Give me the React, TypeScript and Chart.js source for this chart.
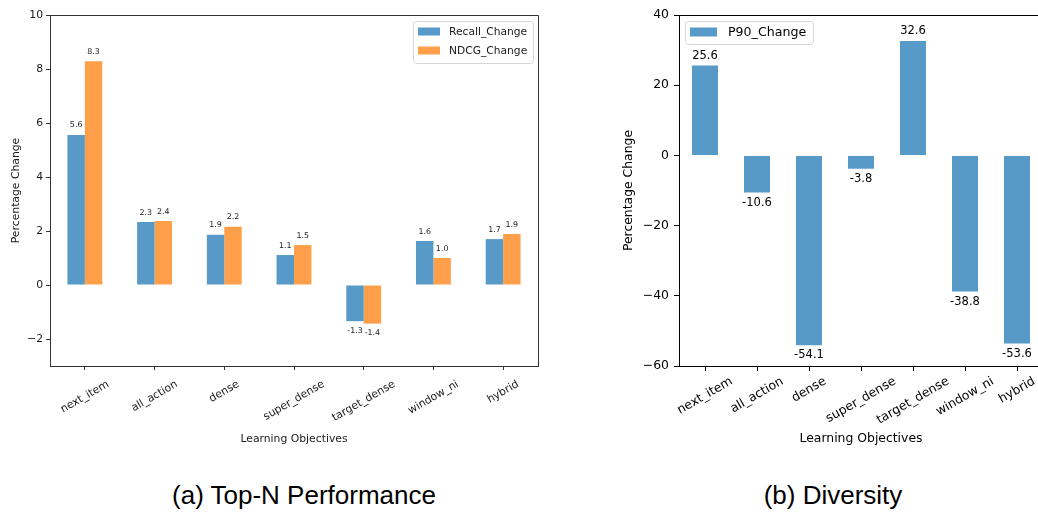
import React, { useEffect, useRef } from "react";
import { Chart, registerables } from "chart.js";
Chart.register(...registerables);

const categories = ["next_item", "all_action", "dense", "super_dense", "target_dense", "window_ni", "hybrid"];
const recallChange = [5.56, 2.33, 1.86, 1.11, -1.34, 1.63, 1.7];
const ndcgChange = [8.29, 2.37, 2.16, 1.48, -1.43, 1.0, 1.89];
const p90Change = [25.6, -10.6, -54.1, -3.8, 32.6, -38.8, -53.6];
const leftTicks = [-2, 0, 2, 4, 6, 8, 10];
const rightTicks = [-60, -40, -20, 0, 20, 40];
const leftSeriesNames = ["Recall_Change", "NDCG_Change"];
const rightSeriesNames = ["P90_Change"];
const captions = ["(a) Top-N Performance", "(b) Diversity"];

const BLUE = "rgb(87,153,199)";
const ORANGE = "rgb(255,159,74)";
const FONT = "'DejaVu Sans', 'Noto Sans', sans-serif";

const fmtTick = (v: number) => (v < 0 ? "\u2212" + Math.abs(v) : String(v));

function roundRect(ctx: CanvasRenderingContext2D, x: number, y: number, w: number, h: number, r: number) {
  ctx.beginPath();
  ctx.moveTo(x + r, y);
  ctx.lineTo(x + w - r, y);
  ctx.quadraticCurveTo(x + w, y, x + w, y + r);
  ctx.lineTo(x + w, y + h - r);
  ctx.quadraticCurveTo(x + w, y + h, x + w - r, y + h);
  ctx.lineTo(x + r, y + h);
  ctx.quadraticCurveTo(x, y + h, x, y + h - r);
  ctx.lineTo(x, y + r);
  ctx.quadraticCurveTo(x, y, x + r, y);
  ctx.closePath();
}

type Cfg = {
  spineColor: string;
  textColor: string;
  tickFont: number;
  labelFont: number;
  barLabelFont: number;
  barLabelOffset: number;
  xLabelC: number;
  legend: { x: number; y: number; w: number; h: number; patchX: number; patchW: number; patchH: number; textX: number; rows: number[]; font: number };
  names: string[];
  colors: string[];
};

function makePlugin(cfg: Cfg) {
  return {
    id: "decor",
    afterDraw(chart: any) {
      const { ctx, chartArea: a, scales } = chart;
      ctx.save();
      // top & right spines
      ctx.strokeStyle = cfg.spineColor;
      ctx.lineWidth = 1;
      ctx.beginPath();
      ctx.moveTo(Math.round(a.left), Math.round(a.top) + 0.5);
      ctx.lineTo(Math.round(a.right) + 0.5, Math.round(a.top) + 0.5);
      ctx.lineTo(Math.round(a.right) + 0.5, Math.round(a.bottom));
      ctx.stroke();

      // bar value labels
      ctx.fillStyle = cfg.textColor;
      ctx.font = `${cfg.barLabelFont}px ${FONT}`;
      ctx.textAlign = "center";
      ctx.textBaseline = "middle";
      chart.data.datasets.forEach((ds: any, di: number) => {
        const meta = chart.getDatasetMeta(di);
        meta.data.forEach((bar: any, i: number) => {
          const v = ds.data[i] as number;
          const y = v >= 0 ? bar.y - cfg.barLabelOffset : bar.y + cfg.barLabelOffset;
          ctx.fillText(v.toFixed(1), bar.x, y);
        });
      });

      // rotated x tick labels (centered like matplotlib)
      const x = scales.x;
      ctx.font = `${cfg.tickFont}px ${FONT}`;
      categories.forEach((lab, i) => {
        const px = x.getPixelForValue(i);
        const w = ctx.measureText(lab).width;
        const cy = a.bottom + cfg.xLabelC + (w * 0.5) / 2;
        ctx.save();
        ctx.translate(px, cy);
        ctx.rotate(-Math.PI / 6);
        ctx.fillText(lab, 0, 0);
        ctx.restore();
      });

      // legend
      const L = cfg.legend;
      roundRect(ctx, L.x + 0.5, L.y + 0.5, L.w, L.h, 3);
      ctx.fillStyle = "rgba(255,255,255,0.8)";
      ctx.fill();
      ctx.strokeStyle = "rgb(214,214,214)";
      ctx.stroke();
      ctx.font = `${L.font}px ${FONT}`;
      ctx.textAlign = "left";
      ctx.textBaseline = "middle";
      cfg.names.forEach((n, i) => {
        const cy = L.rows[i];
        ctx.fillStyle = cfg.colors[i];
        ctx.fillRect(L.patchX, cy - L.patchH / 2, L.patchW, L.patchH);
        ctx.fillStyle = cfg.textColor;
        ctx.fillText(n, L.textX, cy + 0.5);
      });
      ctx.restore();
    },
  };
}

function buildOptions(o: {
  min: number;
  max: number;
  ticks: number[];
  yWidth: number;
  xHeight: number;
  padding: any;
  tickFont: number;
  labelFont: number;
  spineColor: string;
  textColor: string;
  tickLen: number;
  tickPad: number;
  yTitlePad: number;
  xTitlePad: number;
}) {
  return {
    responsive: false,
    animation: false,
    devicePixelRatio: 1,
    layout: { padding: o.padding },
    plugins: { legend: { display: false }, tooltip: { enabled: false }, title: { display: false } },
    scales: {
      x: {
        type: "category",
        offset: true,
        grid: { offset: false, drawOnChartArea: false, drawTicks: true, tickLength: o.tickLen, color: o.spineColor, lineWidth: 1 },
        border: { display: true, color: o.spineColor, width: 1 },
        ticks: { display: false },
        title: {
          display: true,
          text: "Learning Objectives",
          color: o.textColor,
          font: { family: FONT, size: o.labelFont },
          padding: { top: 0, bottom: o.xTitlePad },
        },
        afterFit: (s: any) => {
          s.height = o.xHeight;
          s.paddingLeft = 0;
          s.paddingRight = 0;
        },
      },
      y: {
        min: o.min,
        max: o.max,
        afterBuildTicks: (s: any) => {
          s.ticks = o.ticks.map((v) => ({ value: v }));
        },
        grid: { drawOnChartArea: false, drawTicks: true, tickLength: o.tickLen, color: o.spineColor, lineWidth: 1 },
        border: { display: true, color: o.spineColor, width: 1 },
        ticks: {
          color: o.textColor,
          padding: o.tickPad,
          font: { family: FONT, size: o.tickFont },
          callback: (v: any) => fmtTick(Number(v)),
        },
        title: {
          display: true,
          text: "Percentage Change",
          color: o.textColor,
          font: { family: FONT, size: o.labelFont },
          padding: { top: o.yTitlePad, bottom: 0 },
        },
        afterFit: (s: any) => {
          s.width = o.yWidth;
          s.paddingTop = 0;
          s.paddingBottom = 0;
        },
      },
    },
  } as any;
}

function LeftChart() {
  const ref = useRef<HTMLCanvasElement>(null);
  useEffect(() => {
    const textColor = "#1a1a1a";
    const spineColor = "#333";
    const chart = new Chart(ref.current as HTMLCanvasElement, {
      type: "bar",
      data: {
        labels: categories,
        datasets: [
          { label: leftSeriesNames[0], data: recallChange, backgroundColor: BLUE, categoryPercentage: 0.5, barPercentage: 1 },
          { label: leftSeriesNames[1], data: ndcgChange, backgroundColor: ORANGE, categoryPercentage: 0.5, barPercentage: 1 },
        ],
      },
      options: buildOptions({
        min: -3,
        max: 10,
        ticks: leftTicks,
        yWidth: 50,
        xHeight: 94,
        padding: { top: 15, right: 22, left: 0, bottom: 0 },
        tickFont: 10.8,
        labelFont: 10.8,
        spineColor,
        textColor,
        tickLen: 4,
        tickPad: 3,
        yTitlePad: 9.5,
        xTitlePad: 14.5,
      }),
      plugins: [
        makePlugin({
          spineColor,
          textColor,
          tickFont: 10.8,
          labelFont: 10.8,
          barLabelFont: 7.9,
          barLabelOffset: 9.5,
          xLabelC: 17.5,
          legend: { x: 413, y: 21, w: 120, h: 42, patchX: 418, patchW: 22, patchH: 8, textX: 449, rows: [31.5, 50.5], font: 10.7 },
          names: leftSeriesNames,
          colors: [BLUE, ORANGE],
        }),
      ],
    } as any);
    return () => chart.destroy();
  }, []);
  return <canvas ref={ref} width={560} height={460} style={{ position: "absolute", left: 0, top: 0, width: 560, height: 460 }} />;
}

function RightChart() {
  const ref = useRef<HTMLCanvasElement>(null);
  useEffect(() => {
    const textColor = "#000";
    const spineColor = "#000";
    const chart = new Chart(ref.current as HTMLCanvasElement, {
      type: "bar",
      data: {
        labels: categories,
        datasets: [{ label: rightSeriesNames[0], data: p90Change, backgroundColor: BLUE, categoryPercentage: 0.5, barPercentage: 1 }],
      },
      options: buildOptions({
        min: -60,
        max: 40,
        ticks: rightTicks,
        yWidth: 119,
        xHeight: 94,
        padding: { top: 15, right: 37, left: 0, bottom: 0 },
        tickFont: 12.4,
        labelFont: 12.4,
        spineColor,
        textColor,
        tickLen: 5,
        tickPad: 5,
        yTitlePad: 61.6,
        xTitlePad: 13.6,
      }),
      plugins: [
        makePlugin({
          spineColor,
          textColor,
          tickFont: 12.4,
          labelFont: 12.4,
          barLabelFont: 11.5,
          barLabelOffset: 10,
          xLabelC: 14.5,
          legend: { x: 125, y: 21, w: 128, h: 23, patchX: 130, patchW: 27, patchH: 9, textX: 168, rows: [32], font: 12.6 },
          names: rightSeriesNames,
          colors: [BLUE],
        }),
      ],
    } as any);
    return () => chart.destroy();
  }, []);
  return <canvas ref={ref} width={520} height={460} style={{ position: "absolute", left: 560, top: 0, width: 520, height: 460 }} />;
}

export default function App() {
  const capStyle = (cx: number): React.CSSProperties => ({
    position: "absolute",
    top: 482,
    left: cx - 200,
    width: 400,
    textAlign: "center",
    fontFamily: "'Liberation Sans', Arial, sans-serif",
    fontSize: 26,
    lineHeight: "26px",
    color: "#000",
    whiteSpace: "nowrap",
  });
  return (
    <div style={{ position: "fixed", left: 0, top: 0, width: 1038, height: 514, overflow: "hidden", background: "#fff" }}>
      <LeftChart />
      <RightChart />
      <div style={capStyle(304)}>{captions[0]}</div>
      <div style={capStyle(833)}>{captions[1]}</div>
    </div>
  );
}
